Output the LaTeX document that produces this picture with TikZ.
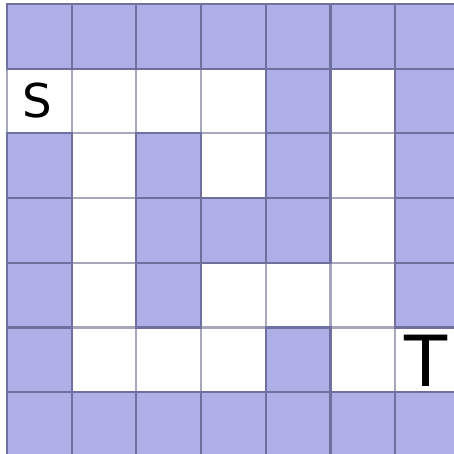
\documentclass[tikz,border=0pt]{standalone}
\usepackage{fontspec}
\setsansfont{DejaVu Sans}
\usetikzlibrary{positioning}
\definecolor{wallblue}{HTML}{AFAFE8}
\definecolor{wallline}{HTML}{70709E}
\definecolor{freeline}{HTML}{A8A8BC}
\tikzset{
  wall/.style={fill=wallblue, draw=wallline, line width=0.9pt},
  free/.style={fill=white, draw=freeline, line width=0.9pt},
  marker/.style={font=\sffamily, inner sep=0pt}
}

\begin{document}
\begin{tikzpicture}[x=1cm, y=1cm]

  \useasboundingbox (-0.108,0.062) rectangle (6.894,-6.955);

  % maze: 1 = wall, 0 = free
  \foreach \kind in {0,1} {
    \foreach \cells [count=\r from 0] in {
        {1,1,1,1,1,1,1},
        {0,0,0,0,1,0,1},
        {1,0,1,0,1,0,1},
        {1,0,1,1,1,0,1},
        {1,0,1,0,0,0,1},
        {1,0,0,0,1,0,0},
        {1,1,1,1,1,1,1}} {
      \foreach \v [count=\c from 0] in \cells {
        \ifnum\v=\kind
          \ifnum\v=1
            \draw[wall] (\c,-\r) rectangle ++(1,-1);
          \else
            \draw[free] (\c,-\r) rectangle ++(1,-1);
          \fi
        \fi
      }
    }
  }

  \node[marker, font=\sffamily\fontsize{20.5}{20.5}\selectfont] (start)  at (0.464,-1.49) {S};
  \node[marker, font=\sffamily\fontsize{31}{31}\selectfont]     (target) at (6.476,-5.518) {T};

\end{tikzpicture}
\end{document}
